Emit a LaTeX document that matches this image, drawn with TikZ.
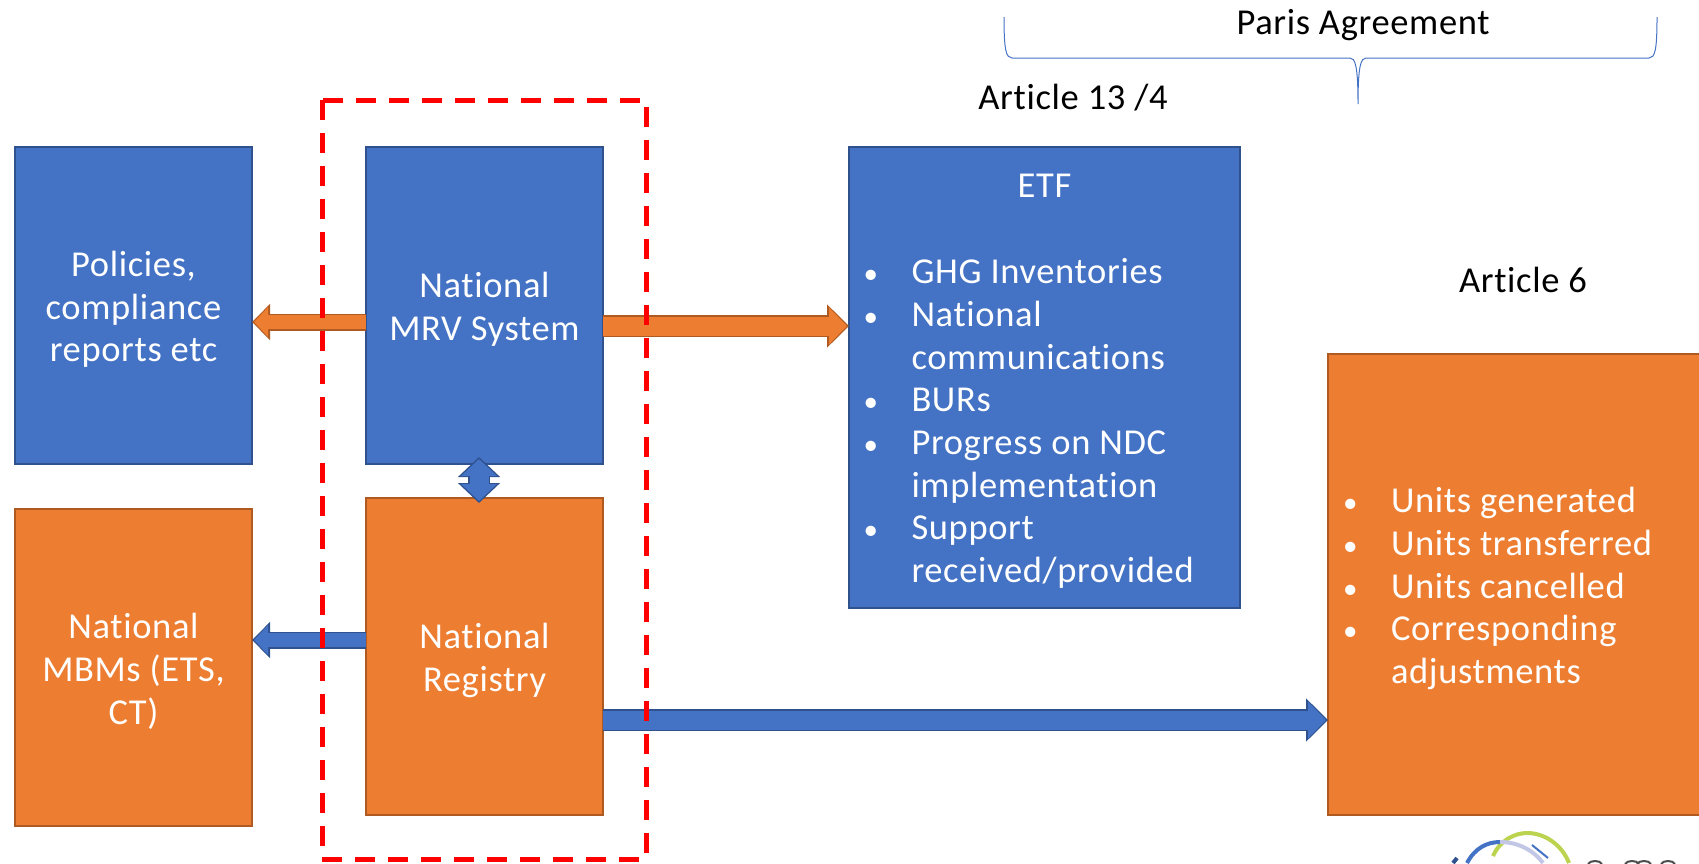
\documentclass[tikz,border=0pt]{standalone}
\usepackage{fontspec}
\setmainfont[Ligatures=NoCommon,LetterSpace=1.8]{Carlito}
\usetikzlibrary{arrows.meta}
\definecolor{boxblue}{HTML}{4472C4}
\definecolor{edgeblue}{HTML}{2F528F}
\definecolor{boxorange}{HTML}{ED7D31}
\definecolor{edgeorange}{HTML}{AE5A21}
\definecolor{logogreen}{HTML}{BBD34F}
\definecolor{logolilac}{HTML}{C3C7E6}
\newcommand{\boxfont}{\fontsize{36.5}{42.7}\selectfont}
\newcommand{\toplift}{\rule{0pt}{33pt}}
\newcommand{\bulitem}[1]{\makebox[48pt][l]{\fontsize{29}{29}\selectfont\textbullet}#1}
\newcommand{\bulmore}[1]{\hspace*{48pt}#1}

\begin{document}
\begin{tikzpicture}[x=1pt,y=-1pt]
    \useasboundingbox (0,0) rectangle (1699,863);
    \tikzstyle{every node}=[outer sep=0pt, inner sep=0pt];
    \tikzstyle{boxnode}=[draw, line width=2pt, text=white, align=center, font=\boxfont];
    \tikzstyle{bluebox}=[boxnode, fill=boxblue, draw=edgeblue];
    \tikzstyle{orangebox}=[boxnode, fill=boxorange, draw=edgeorange];
    \tikzstyle{sidebox}=[minimum width=237pt, minimum height=317pt];
    \tikzstyle{listtext}=[text=white, align=left, anchor=west, font=\boxfont];
    \tikzstyle{plaintext}=[text=black, font=\boxfont];
    \tikzstyle{thinorange}=[preaction={draw=edgeorange, line width=17pt, shorten >=0pt, -{Triangle[length=18pt,width=35pt]}},
        draw=boxorange, line width=14pt, shorten >=2pt, -{Triangle[length=14pt,width=29pt]}];
    \tikzstyle{thinblue}=[preaction={draw=edgeblue, line width=17pt, shorten >=0pt, -{Triangle[length=18pt,width=35pt]}},
        draw=boxblue, line width=14pt, shorten >=2pt, -{Triangle[length=14pt,width=29pt]}];
    \tikzstyle{wideorange}=[preaction={draw=edgeorange, line width=22pt, shorten >=0pt, -{Triangle[length=22pt,width=42pt]}},
        draw=boxorange, line width=19pt, shorten >=2pt, -{Triangle[length=18pt,width=36pt]}];
    \tikzstyle{wideblue}=[preaction={draw=edgeblue, line width=22pt, shorten >=0pt, -{Triangle[length=22pt,width=42pt]}},
        draw=boxblue, line width=19pt, shorten >=2pt, -{Triangle[length=18pt,width=36pt]}];
    \tikzstyle{bothblue}=[preaction={draw=edgeblue, line width=22pt, shorten >=0pt, shorten <=0pt, {Triangle[length=20pt,width=41pt]}-{Triangle[length=20pt,width=41pt]}},
        draw=boxblue, line width=19pt, shorten >=2pt, shorten <=2pt, {Triangle[length=17pt,width=35pt]}-{Triangle[length=17pt,width=35pt]}];

    % boxes
    \node[bluebox, sidebox] (policies) at (133.5,305.5) {\toplift Policies,\\compliance\\reports etc};
    \node[bluebox, sidebox] (mrv) at (484.5,305.5) {\toplift National\\MRV System};
    \node[orangebox, sidebox] (registry) at (484.5,656.5) {\toplift National\\Registry};
    \node[orangebox, sidebox] (mbms) at (133.5,667.5) {\toplift National\\MBMs (ETS,\\CT)};
    \node[bluebox, minimum width=391pt, minimum height=461pt] (etf) at (1044.5,377.5) {};
    \node[orangebox, minimum width=431pt, minimum height=461pt] (units) at (1543.5,584.5) {};

    % box texts
    \node[text=white, font=\boxfont, anchor=base] (etfhead) at (1044.5,197) {ETF};
    \node[listtext] (etflist) at (863.5,423.5) {\bulitem{GHG Inventories}\\\bulitem{National}\\\bulmore{communications}\\\bulitem{BURs}\\\bulitem{Progress on NDC}\\\bulmore{implementation}\\\bulitem{Support}\\\bulmore{received/provided}};
    \node[listtext] (unitslist) at (1343,588.5) {\bulitem{Units generated}\\\bulitem{Units transferred}\\\bulitem{Units cancelled}\\\bulitem{Corresponding}\\\bulmore{adjustments}};

    % headings
    \node[plaintext, anchor=base] (paris) at (1363,34) {Paris Agreement};
    \node[plaintext, anchor=base] (art13) at (1073,109) {Article 13 /4};
    \node[plaintext, anchor=base] (art6) at (1523,292) {Article 6};
    \draw[boxblue, line width=1pt] (1004,17) .. controls (1004,50) and (1006,58) .. (1012,58) -- (1350,58)
        .. controls (1355,58) and (1358,65) .. (1358,104) .. controls (1358,65) and (1361,58) .. (1366,58)
        -- (1649,58) .. controls (1655,58) and (1657,50) .. (1657,17);

    % arrows
    \coordinate (mrvdown) at (479,457);
    \coordinate (regup) at (479,503);
    \draw[thinorange] (mrv.west |- 0,322) -- (policies.east |- 0,322);
    \draw[wideorange] (mrv.east |- 0,326) -- (etf.west |- 0,326);
    \draw[thinblue] (registry.west |- 0,640) -- (mbms.east |- 0,640);
    \draw[wideblue] (registry.east |- 0,720) -- (units.west |- 0,720);
    \draw[bothblue] (mrvdown) -- (regup);

    % red frame
    \draw[red, line width=5pt, dash pattern=on 20pt off 13pt] (322,100) rectangle (646,859);

    % logo, cut off by the page
    \draw[line width=4pt, color=logogreen] (1493,856) .. controls (1500,840) and (1515,833) .. (1527,833) .. controls (1545,833) and (1562,845) .. (1569,863);
    \draw[line width=4pt, color=boxblue] (1467,863) .. controls (1475,848) and (1487,842) .. (1500,842);
    \draw[line width=4pt, color=logolilac] (1500,842) .. controls (1520,842) and (1535,852) .. (1543,863);
    \draw[line width=2pt, color=boxblue] (1532,845) -- (1548,858);
    \draw[line width=4pt, color=edgeblue] (1453,863) -- (1457,858);
    \foreach \x in {1595,1632,1644,1668} {
      \draw[line width=2pt, color=black!70] (\x-7,864) .. controls (\x-5,860) and (\x+5,860) .. (\x+7,864);
    }
\end{tikzpicture}
\end{document}
